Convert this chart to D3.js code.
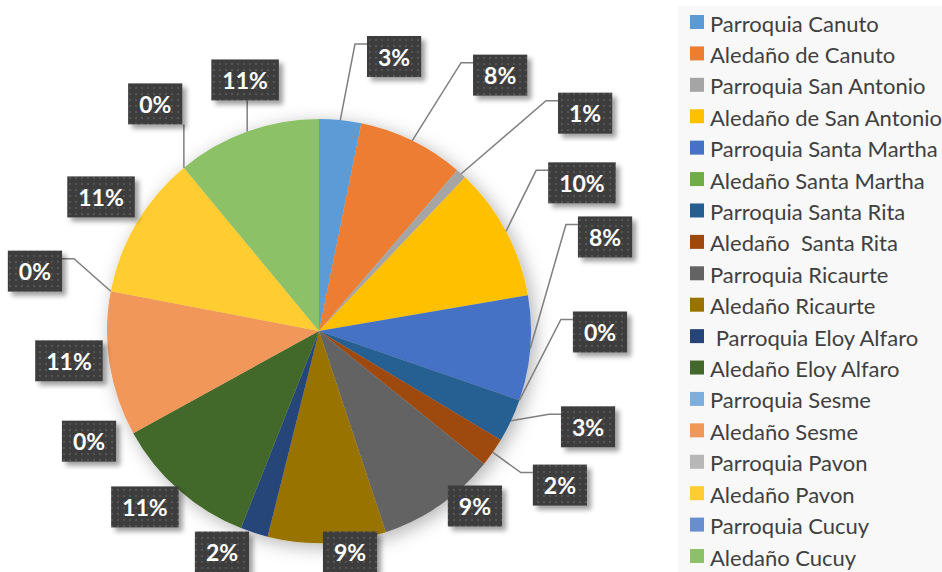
<!DOCTYPE html>
<html>
<head>
<meta charset="utf-8">
<script src="https://cdn.jsdelivr.net/npm/d3@7"></script>
<style>
  html, body { margin: 0; padding: 0; background: #ffffff; }
  svg { display: block; }
  text { white-space: pre; }
</style>
</head>
<body>
<svg id="chart" width="942" height="572"></svg>
<script>
// ---------------- DATA ----------------
const categories = [
  "Parroquia Canuto", "Aledaño de Canuto", "Parroquia San Antonio", "Aledaño de San Antonio",
  "Parroquia Santa Martha", "Aledaño Santa Martha", "Parroquia Santa Rita", "Aledaño  Santa Rita",
  "Parroquia Ricaurte", "Aledaño Ricaurte", " Parroquia Eloy Alfaro", "Aledaño Eloy Alfaro",
  "Parroquia Sesme", "Aledaño Sesme", "Parroquia Pavon", "Aledaño Pavon",
  "Parroquia Cucuy", "Aledaño Cucuy"
];
const values = [3.2, 8.1, 0.8, 10.2, 8.0, 0, 3.3, 2.2, 9.1, 9.0, 2.1, 11.0, 0, 11.0, 0, 11.0, 0, 11.0];
const colors = [
  "#5B9BD5", "#ED7D31", "#A5A5A5", "#FFC000", "#4472C4", "#70AD47", "#255E91", "#9E480E",
  "#636363", "#997300", "#264478", "#43682B", "#7CAFDD", "#F1975A", "#B7B7B7", "#FFCD33",
  "#698ED0", "#8CC168"
];

// ---------------- LAYOUT (label placement: angle in degrees, distance from centre) ----------------
const labelAngle  = [15.3, 35.3, 50.7, 60.6, 71.8, 90.2, 109.6, 122.6, 138.3, 172, 203.7, 224.7, 244.4, 263.2, 281.9, 301.6, 324.2, 343.6];
const labelRadius = [284.6, 313.5, 343.9, 301.8, 301.1, 281, 285.6, 286, 234.4, 223.2, 241.4, 247.5, 255, 251.8, 290.3, 255.9, 280, 261.7];
const hasLeader   = [1,1,1,1,1,1,1,1,0,0,0,0,0,0,1,0,1,1];

const W = 942, H = 572;
const cx = 319, cy = 331, R = 212;

const svg = d3.select("#chart");
const defs = svg.append("defs");

// soft shadow for pie
const fPie = defs.append("filter").attr("id", "pieShadow").attr("x", "-20%").attr("y", "-20%").attr("width", "140%").attr("height", "140%");
fPie.append("feDropShadow").attr("dx", 4).attr("dy", 4).attr("stdDeviation", 9)
  .attr("flood-color", "#000").attr("flood-opacity", 0.3);

// label shadow
const fLab = defs.append("filter").attr("id", "labShadow").attr("x", "-30%").attr("y", "-30%").attr("width", "160%").attr("height", "160%");
fLab.append("feDropShadow").attr("dx", 4).attr("dy", 4).attr("stdDeviation", 2.5)
  .attr("flood-color", "#000").attr("flood-opacity", 0.38);

// dotted texture for label boxes
const pat = defs.append("pattern").attr("id", "dots").attr("patternUnits", "userSpaceOnUse")
  .attr("width", 6).attr("height", 6);
pat.append("rect").attr("width", 6).attr("height", 6).attr("fill", "#3d3d3d");
pat.append("rect").attr("x", 2).attr("y", 2).attr("width", 2).attr("height", 2).attr("fill", "#555555");

// ---------------- LEGEND BACKGROUND ----------------
svg.append("rect").attr("x", 678).attr("y", 6).attr("width", W - 678).attr("height", H - 6)
  .attr("fill", "#f8f8f8");

// ---------------- PIE ----------------
const total = d3.sum(values);
const pie = d3.pie().sort(null).value(d => d).startAngle(0).endAngle(2 * Math.PI);
const arcs = pie(values);
const arc = d3.arc().innerRadius(0).outerRadius(R);
const color = d3.scaleOrdinal().domain(d3.range(categories.length)).range(colors);
const pct = d3.format(".0%");

const g = svg.append("g").attr("transform", `translate(${cx},${cy})`);
g.append("g").attr("filter", "url(#pieShadow)")
  .selectAll("path").data(arcs).join("path")
  .attr("d", arc)
  .attr("fill", (d, i) => color(i));

// ---------------- LABELS ----------------
const toRad = a => a * Math.PI / 180;
const polar = (angRad, r) => [Math.sin(angRad) * r, -Math.cos(angRad) * r];

const leaderG = g.append("g");
const labelG = g.append("g");

arcs.forEach((d, i) => {
  const text = pct(d.value / total);
  const [lx, ly] = polar(toRad(labelAngle[i]), labelRadius[i]);
  const t = labelG.append("text")
    .attr("x", lx).attr("y", ly)
    .attr("text-anchor", "middle").attr("dominant-baseline", "central")
    .attr("font-family", "Lato, 'Open Sans', sans-serif").attr("font-weight", "bold")
    .attr("font-size", 23).attr("fill", "#ffffff")
    .text(text);
  const tw = t.node().getComputedTextLength();
  const bw = tw + 22, bh = 41;
  const bx0 = lx - bw / 2, by0 = ly - bh / 2, bx1 = bx0 + bw, by1 = by0 + bh;
  labelG.insert("rect", "text")
    .attr("x", bx0).attr("y", by0).attr("width", bw).attr("height", bh)
    .attr("fill", "url(#dots)").attr("filter", "url(#labShadow)");
  labelG.node().appendChild(t.node());

  if (hasLeader[i]) {
    const mid = (d.startAngle + d.endAngle) / 2;
    const P = polar(mid, R);
    let pts;
    if (P[0] >= bx0 - 4 && P[0] <= bx1 + 4) {
      pts = [P, [P[0], P[1] < by0 ? by0 : by1]];
    } else if (P[0] < bx0) {
      const ay = by0 + 8;
      pts = [P, [bx0 - 12, ay], [bx0, ay]];
    } else {
      const ay = by0 + 8;
      pts = [P, [bx1 + 12, ay], [bx1, ay]];
    }
    leaderG.append("path")
      .attr("d", d3.line()(pts))
      .attr("fill", "none").attr("stroke", "#7f7f7f").attr("stroke-width", 1.5);
  }
});

// ---------------- LEGEND ----------------
const ly = d3.scalePoint().domain(d3.range(categories.length)).range([22, 556]);
const leg = svg.append("g");
categories.forEach((c, i) => {
  leg.append("rect").attr("x", 690).attr("y", ly(i) - 7).attr("width", 14).attr("height", 14)
    .attr("fill", color(i));
  leg.append("text").attr("x", 710).attr("y", ly(i) + 1)
    .attr("dominant-baseline", "central")
    .attr("font-family", "Lato, 'Open Sans', sans-serif").attr("font-size", 22)
    .attr("fill", "#404040")
    .text(c);
});
</script>
</body>
</html>
